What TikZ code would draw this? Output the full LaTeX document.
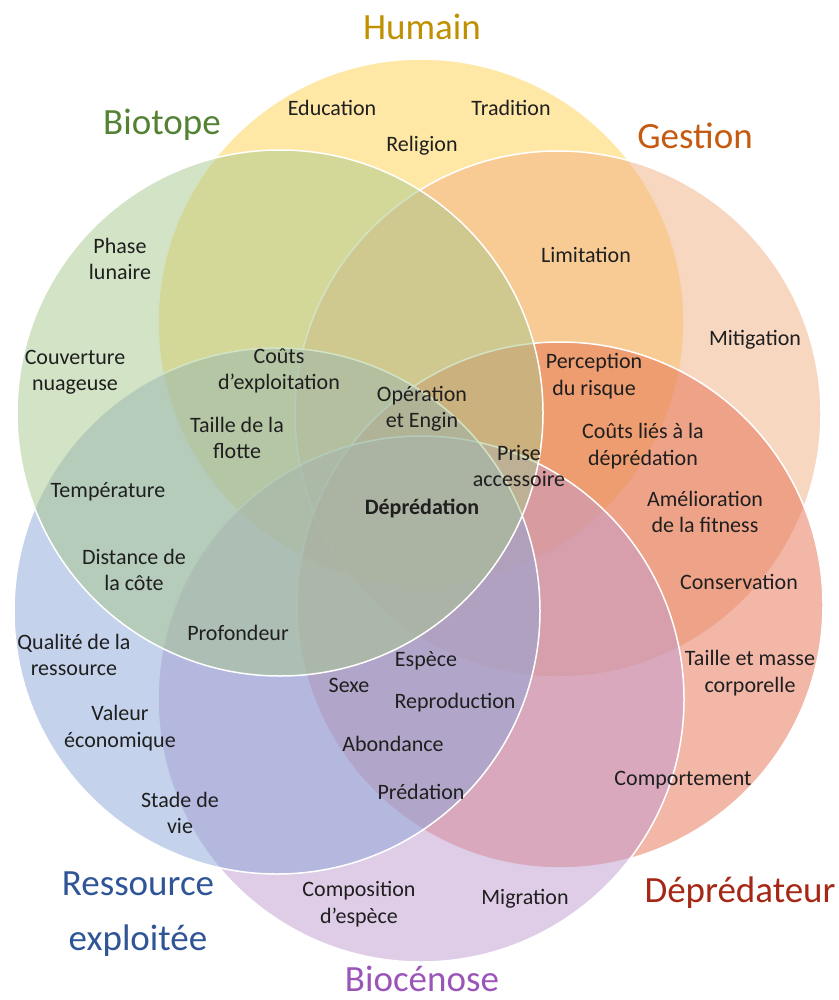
\documentclass[tikz,border=0pt]{standalone}
\usepackage{fontspec}
\setmainfont{Carlito}
\definecolor{cyel}{RGB}{255,209,77}
\definecolor{cora}{RGB}{239,175,129}
\definecolor{cred}{RGB}{231,111,81}
\definecolor{cpur}{RGB}{191,155,209}
\definecolor{cblu}{RGB}{139,165,215}
\definecolor{cgre}{RGB}{167,199,139}
\definecolor{tyel}{RGB}{191,144,0}
\definecolor{tgre}{RGB}{84,130,53}
\definecolor{tora}{RGB}{197,90,17}
\definecolor{tred}{RGB}{165,40,22}
\definecolor{tblu}{RGB}{47,85,151}
\definecolor{tpur}{RGB}{155,85,185}
\tikzset{
  venn/.style={circle, minimum size=526pt, inner sep=0pt, draw=white, line width=1.5pt, fill opacity=0.5},
  lbl/.style={font=\fontsize{22}{26.5}\selectfont, align=center, text=black!88, inner sep=1pt},
  ttl/.style={font=\fontsize{37}{55}\selectfont, align=center, inner sep=0pt}
}
\begin{document}
\begin{tikzpicture}[x=1pt,y=-1pt]
\useasboundingbox (0,0) rectangle (838,1000);
% circles
\node[venn, fill=cyel] (humain) at (421,322) {};
\node[venn, fill=cora] (gestion) at (558,414) {};
\node[venn, fill=cred] (depred) at (560,605) {};
\node[venn, fill=cpur] (bioc) at (421,699) {};
\node[venn, fill=cblu] (ress) at (277,611) {};
\node[venn, fill=cgre] (biot) at (280,413) {};
% titles
\node[ttl, text=tyel] (tHum) at (422,27) {Humain};
\node[ttl, text=tgre] (tBio) at (162,125) {Biotope};
\node[ttl, text=tora] (tGes) at (695,136) {Gestion};
\node[ttl, text=tred] (tDep) at (740,893) {Déprédateur};
\node[ttl, text=tblu] (tRes) at (138,914) {Ressource\\exploitée};
\node[ttl, text=tpur, anchor=base] (tBcn) at (422,991) {Biocénose};
% labels
\node[lbl] (l1) at (332,108) {Education};
\node[lbl] (l2) at (511,108) {Tradition};
\node[lbl] (l3) at (422,146) {Religion};
\node[lbl] (l4) at (120,259) {Phase\\lunaire};
\node[lbl] (l5) at (586,255) {Limitation};
\node[lbl] (l6) at (755,340) {Mitigation};
\node[lbl] (l7) at (75,372) {Couverture\\nuageuse};
\node[lbl] (l8) at (279,371) {Coûts\\d’exploitation};
\node[lbl] (l9) at (422,409) {Opération\\et Engin};
\node[lbl] (l10) at (594,376) {Perception\\du risque};
\node[lbl] (l11) at (237,438) {Taille de la\\flotte};
\node[lbl] (l12) at (643,446) {Coûts liés à la\\déprédation};
\node[lbl] (l13) at (519,466) {Prise\\accessoire};
\node[lbl] (l14) at (108,492) {Température};
\node[lbl, font=\fontsize{22}{26.5}\selectfont\bfseries] (l15) at (422,508) {Déprédation};
\node[lbl] (l16) at (705,512) {Amélioration\\de la fitness};
\node[lbl] (l17) at (134,570) {Distance de\\la côte};
\node[lbl] (l18) at (739,582) {Conservation};
\node[lbl] (l19) at (238,633) {Profondeur};
\node[lbl] (l20) at (74,655) {Qualité de la\\ressource};
\node[lbl] (l21) at (750,673) {Taille et masse\\corporelle};
\node[lbl] (l22) at (426,661) {Espèce};
\node[lbl] (l23) at (349,685) {Sexe};
\node[lbl] (l24) at (455,703) {Reproduction};
\node[lbl] (l25) at (120,728) {Valeur\\économique};
\node[lbl] (l26) at (393,744) {Abondance};
\node[lbl] (l27) at (683,780) {Comportement};
\node[lbl] (l28) at (421,792) {Prédation};
\node[lbl] (l29) at (180,813) {Stade de\\vie};
\node[lbl] (l30) at (359,904) {Composition\\d’espèce};
\node[lbl] (l31) at (525,899) {Migration};
\end{tikzpicture}
\end{document}
